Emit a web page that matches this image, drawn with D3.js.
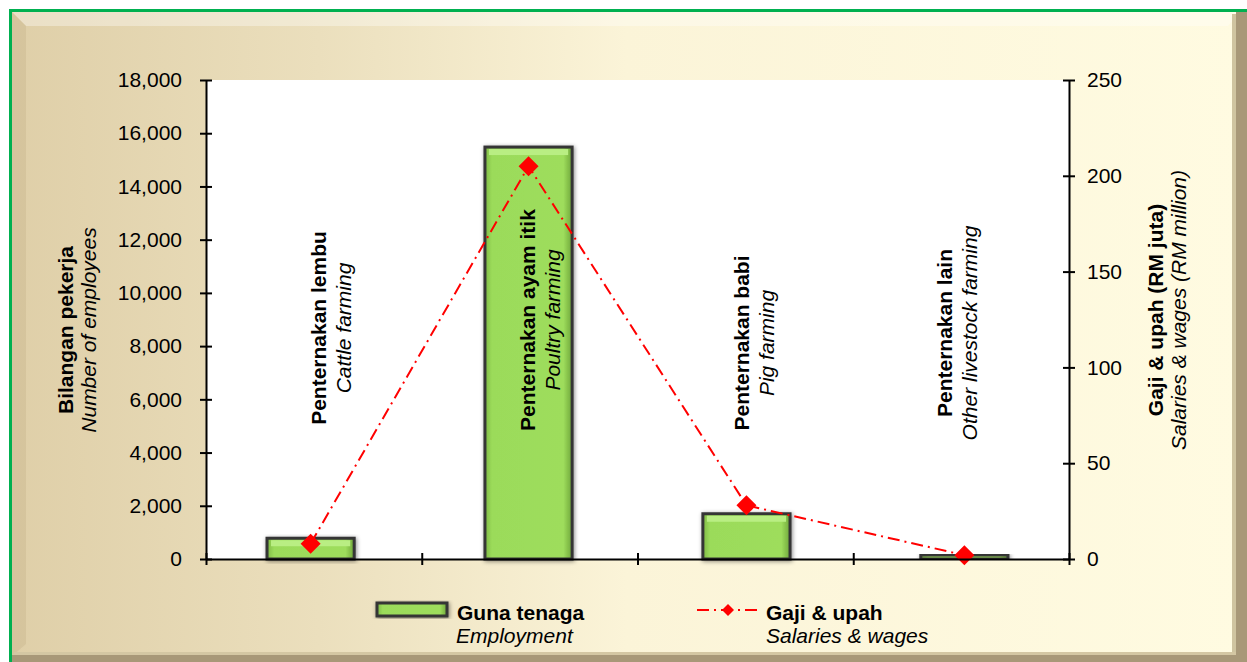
<!DOCTYPE html>
<html>
<head>
<meta charset="utf-8">
<script src="https://cdn.jsdelivr.net/npm/d3@7"></script>
<style>
  body { margin: 0; background: #fff; }
  svg { display: block; font-family: "Liberation Sans", Arial, sans-serif; }
</style>
</head>
<body>
<svg id="chart" width="1247" height="662"></svg>
<script>
// data
const categoriesMy = ["Penternakan lembu", "Penternakan ayam itik", "Penternakan babi", "Penternakan lain"];
const categoriesEn = ["Cattle farming", "Poultry farming", "Pig farming", "Other livestock farming"];
const employment = [780, 15480, 1700, 150];
const salaries = [8, 205, 28, 2];
const leftTicks = [0, 2000, 4000, 6000, 8000, 10000, 12000, 14000, 16000, 18000];
const rightTicks = [0, 50, 100, 150, 200, 250];

// label nudges (layout only), px from bar centre / vertical centre
const labelDx = [7, -2, -5, -20];
const labelCy = [328, 320, 343, 333];

const svg = d3.select("#chart");
const defs = svg.append("defs");

// frame background
const bg = defs.append("linearGradient").attr("id", "bg");
bg.append("stop").attr("offset", "0%").attr("stop-color", "#dfcfa8");
bg.append("stop").attr("offset", "25%").attr("stop-color", "#ebdfbd");
bg.append("stop").attr("offset", "50%").attr("stop-color", "#fbf4d8");
bg.append("stop").attr("offset", "100%").attr("stop-color", "#fffbe1");

const barGrad = defs.append("linearGradient").attr("id", "barGrad");
barGrad.append("stop").attr("offset", "0%").attr("stop-color", "#7fba45");
barGrad.append("stop").attr("offset", "8%").attr("stop-color", "#9bdb5a");
barGrad.append("stop").attr("offset", "90%").attr("stop-color", "#9edd5c");
barGrad.append("stop").attr("offset", "100%").attr("stop-color", "#6fa63a");

const shadow = defs.append("filter").attr("id", "shadow")
  .attr("x", "-20%").attr("y", "-20%").attr("width", "140%").attr("height", "140%");
shadow.append("feDropShadow").attr("dx", 1).attr("dy", 1)
  .attr("stdDeviation", 2).attr("flood-color", "#000").attr("flood-opacity", 0.45);

svg.append("rect").attr("x", 12).attr("y", 12).attr("width", 1228).attr("height", 644)
  .attr("fill", "url(#bg)");
// bevels
svg.append("polygon").attr("points", "12,12 1240,12 1228,26 26,26")
  .attr("fill", "#fff").attr("opacity", 0.35);
svg.append("polygon").attr("points", "12,12 26,26 26,644 12,656")
  .attr("fill", "#b8a47a").attr("opacity", 0.25);
svg.append("rect").attr("x", 1236).attr("y", 12).attr("width", 11).attr("height", 650)
  .attr("fill", "#a89878");
svg.append("rect").attr("x", 1232).attr("y", 14).attr("width", 4).attr("height", 642)
  .attr("fill", "#cfc4a0");
svg.append("rect").attr("x", 12).attr("y", 655).attr("width", 1235).attr("height", 7)
  .attr("fill", "#a89878");
svg.append("rect").attr("x", 14).attr("y", 652).attr("width", 1222).attr("height", 3)
  .attr("fill", "#d4c7a3");
// green border
svg.append("rect").attr("x", 9).attr("y", 9).attr("width", 1238).attr("height", 3).attr("fill", "#00b050");
svg.append("rect").attr("x", 9).attr("y", 9).attr("width", 3).attr("height", 653).attr("fill", "#00b050");

// plot area
const plotL = 206, plotR = 1069, plotT = 80, plotB = 559;
svg.append("rect").attr("x", plotL).attr("y", plotT).attr("width", plotR - plotL).attr("height", plotB - plotT)
  .attr("fill", "#fff");

const x = d3.scaleBand().domain(categoriesMy).range([plotL, plotR])
  .paddingInner(0.6).paddingOuter(0.28);
const xEdge = d3.scaleLinear().domain([0, categoriesMy.length]).range([plotL, plotR]);
const yL = d3.scaleLinear().domain([0, 18000]).range([plotB, plotT]);
const yR = d3.scaleLinear().domain([0, 250]).range([plotB, plotT]);

// bars
svg.append("g").selectAll("rect").data(employment).join("rect")
  .attr("x", (d, i) => x(categoriesMy[i]))
  .attr("y", d => yL(d))
  .attr("width", x.bandwidth())
  .attr("height", d => Math.max(3, yL(0) - yL(d)))
  .attr("fill", "url(#barGrad)")
  .attr("stroke", "#353535")
  .attr("stroke-width", 3)
  .attr("filter", "url(#shadow)");
// top highlight of bars
svg.append("g").selectAll("rect").data(employment).join("rect")
  .attr("x", (d, i) => x(categoriesMy[i]) + 4)
  .attr("y", d => yL(d) + 2)
  .attr("width", x.bandwidth() - 8)
  .attr("height", d => Math.min(6, Math.max(0, yL(0) - yL(d) - 6)))
  .attr("fill", "#b9ee83");

// category labels
const lab = svg.append("g").selectAll("g").data(categoriesMy).join("g")
  .attr("transform", (d, i) => `translate(${x(d) + x.bandwidth() / 2 + labelDx[i]},${labelCy[i]}) rotate(-90)`);
lab.append("text").attr("text-anchor", "middle").attr("y", 8)
  .attr("font-size", 21).attr("font-weight", "bold").attr("fill", "#000")
  .text(d => d);
lab.append("text").attr("text-anchor", "middle").attr("y", 33)
  .attr("font-size", 21).attr("font-style", "italic").attr("fill", "#000")
  .text((d, i) => categoriesEn[i]);

// salaries line
const cx = (d, i) => x(categoriesMy[i]) + x.bandwidth() / 2;
svg.append("path").datum(salaries)
  .attr("fill", "none").attr("stroke", "#ff0000").attr("stroke-width", 2)
  .attr("stroke-dasharray", "12,5,2,5")
  .attr("d", d3.line().x(cx).y(d => yR(d)));
svg.append("g").selectAll("path").data(salaries).join("path")
  .attr("d", d3.symbol(d3.symbolSquare, 200))
  .attr("transform", (d, i) => `translate(${cx(d, i)},${yR(d)}) rotate(45)`)
  .attr("fill", "#ff0000");

// axes
function styleAxis(g) {
  g.selectAll("path").attr("stroke", "#000").attr("stroke-width", 2);
  g.selectAll("line").attr("stroke", "#000").attr("stroke-width", 2);
  g.selectAll("text").attr("fill", "#000").attr("font-size", 21)
    .attr("font-family", "'Liberation Sans', Arial, sans-serif");
}
const axL = svg.append("g").attr("transform", `translate(${plotL},0)`)
  .call(d3.axisLeft(yL).tickValues(leftTicks).tickFormat(d3.format(",")).tickSizeInner(6).tickSizeOuter(0).tickPadding(18));
axL.selectAll(".tick line").attr("x2", 6).attr("x1", -6);
styleAxis(axL);
const axR = svg.append("g").attr("transform", `translate(${plotR},0)`)
  .call(d3.axisRight(yR).tickValues(rightTicks).tickSizeInner(6).tickSizeOuter(0).tickPadding(12));
axR.selectAll(".tick line").attr("x1", -6).attr("x2", 6);
styleAxis(axR);
const axB = svg.append("g").attr("transform", `translate(0,${plotB})`)
  .call(d3.axisBottom(xEdge).tickValues(d3.range(categoriesMy.length + 1)).tickFormat("").tickSizeOuter(0));
axB.selectAll(".tick line").attr("y1", -6).attr("y2", 6);
styleAxis(axB);

// axis titles
const tl = svg.append("g").attr("transform", "translate(65,330) rotate(-90)");
tl.append("text").attr("text-anchor", "middle").attr("y", 8).attr("font-size", 21)
  .attr("font-weight", "bold").text("Bilangan pekerja");
tl.append("text").attr("text-anchor", "middle").attr("y", 31).attr("font-size", 21)
  .attr("font-style", "italic").text("Number of employees");
const tr = svg.append("g").attr("transform", "translate(1155,310) rotate(-90)");
tr.append("text").attr("text-anchor", "middle").attr("y", 8).attr("font-size", 21)
  .attr("font-weight", "bold").text("Gaji & upah (RM juta)");
tr.append("text").attr("text-anchor", "middle").attr("y", 31).attr("font-size", 21)
  .attr("font-style", "italic").text("Salaries & wages (RM million)");

// legend
const lg = svg.append("g");
lg.append("rect").attr("x", 377).attr("y", 603).attr("width", 70).attr("height", 13)
  .attr("fill", "url(#barGrad)").attr("stroke", "#353535").attr("stroke-width", 3)
  .attr("filter", "url(#shadow)");
lg.append("text").attr("x", 457).attr("y", 620).attr("font-size", 21).attr("font-weight", "bold").text("Guna tenaga");
lg.append("text").attr("x", 456).attr("y", 643).attr("font-size", 21).attr("font-style", "italic").text("Employment");
lg.append("line").attr("x1", 697).attr("x2", 759).attr("y1", 610).attr("y2", 610)
  .attr("stroke", "#ff0000").attr("stroke-width", 2).attr("stroke-dasharray", "12,5,2,5");
lg.append("path").attr("d", d3.symbol(d3.symbolSquare, 72))
  .attr("transform", "translate(728,610) rotate(45)").attr("fill", "#ff0000");
lg.append("text").attr("x", 766).attr("y", 620).attr("font-size", 21).attr("font-weight", "bold").text("Gaji & upah");
lg.append("text").attr("x", 766).attr("y", 643).attr("font-size", 21).attr("font-style", "italic").text("Salaries & wages");
</script>
</body>
</html>
